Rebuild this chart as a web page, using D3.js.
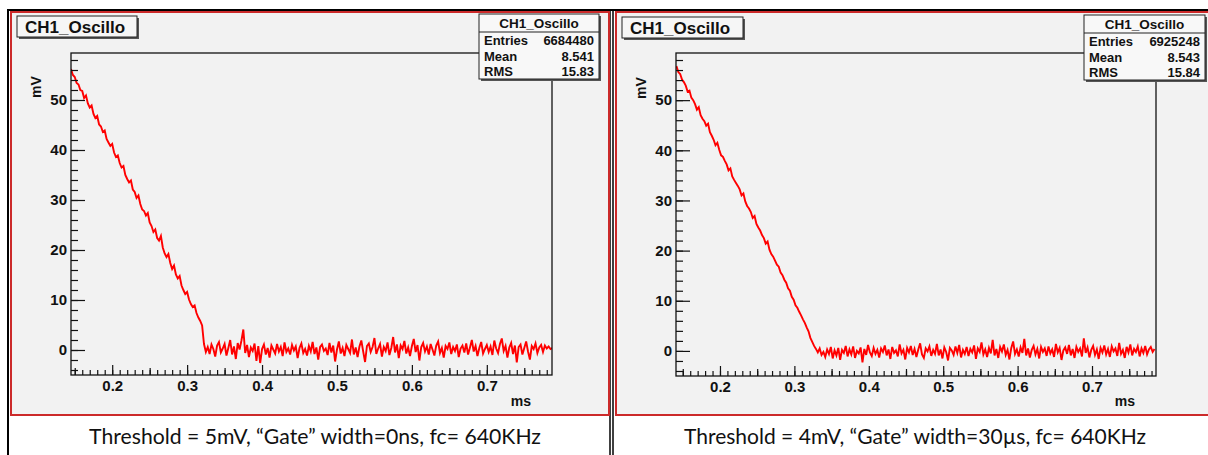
<!DOCTYPE html>
<html>
<head>
<meta charset="utf-8">
<script src="https://cdn.jsdelivr.net/npm/d3@7"></script>
<style>
  body { margin: 0; background: #fff; }
  svg text { font-family: "Liberation Sans", Arial, sans-serif; font-weight: bold; }
</style>
</head>
<body>
<div id="chart"></div>
<script>
// ---- data ----
const histName = "CH1_Oscillo";
const xLabel = "ms";
const yLabel = "mV";
const xMajorTicks = [0.2, 0.3, 0.4, 0.5, 0.6, 0.7];
const yMajorTicks = [0, 10, 20, 30, 40, 50];
const statLabels = ["Entries", "Mean", "RMS"];
const leftStats = ["6684480", "8.541", "15.83"];
const rightStats = ["6925248", "8.543", "15.84"];
const captions = [
    "Threshold = 5mV, \u201cGate\u201d width=0ns, fc= 640KHz",
    "Threshold = 4mV, \u201cGate\u201d width=30\u00b5s, fc= 640KHz"
];
const binWidth = 0.0025;   // ms
const leftStart = 0.145;
const rightStart = 0.1415;

const leftValues = [
    56.2, 55.0, 54.6, 53.4, 53.1, 52.0, 51.8, 50.4, 50.9, 49.3,
    48.5, 48.9, 47.2, 46.4, 46.8, 45.1, 44.7, 43.6, 43.9, 42.2,
    41.5, 40.8, 41.2, 39.5, 38.6, 38.9, 37.4, 36.5, 36.8, 35.0,
    34.2, 33.5, 33.9, 32.1, 31.6, 30.4, 30.9, 29.2, 28.1, 27.8,
    26.9, 27.4, 25.5, 24.8, 23.6, 24.1, 22.4, 21.9, 22.8, 20.5,
    19.3, 18.6, 19.2, 17.4, 16.2, 16.9, 15.1, 14.3, 14.8, 12.9,
    12.0, 11.2, 11.6, 10.1, 9.2, 8.6, 8.9, 7.4, 6.5, 5.8,
    4.9, 1.2,
    -0.4, 0.6, -0.8, 1.1, 0.2, -1.3, 0.9, 1.6, -0.5, 0.3,
    1.2, -1.1, 0.4, 2.0, -0.9, 0.7, -1.8, 1.4, 0.1, 1.9,
    4.1, -0.6, 1.0, -1.4, 0.5, -0.2, 1.3, -2.2, 0.8, -2.6,
    0.2, 1.1, -0.9, 0.4, -1.5, 0.9, 0.1, -0.7, 1.2, -0.3,
    0.6, -1.2, 1.5, -0.4, 0.3, -0.9, 1.0, -0.1, 0.7, -1.6,
    0.4, 1.3, -0.6, 0.2, -1.1, 0.8, -0.3, 1.6, -0.8, 0.5,
    -1.9, 0.6, 1.1, -0.2, 0.3, -1.0, 1.4, -0.5, 0.9, -2.3,
    0.1, 1.7, -0.7, 0.4, -1.2, 1.0, 0.2, -0.6, 2.1, -0.9,
    0.5, -1.4, 0.7, 1.9, -0.3, -2.4, 0.8, 1.3, -0.4, 0.6,
    2.4, -0.8, 0.3, 1.2, -1.3, 0.6, -0.2, 1.5, -1.0, 0.4,
    2.6, -0.5, 1.1, -1.6, 0.9, 0.2, 1.8, -0.7, 0.5, -1.2,
    0.8, 2.2, -0.4, 1.0, -2.1, 0.6, 1.4, -0.3, 0.7, -0.9,
    1.2, 0.1, -1.1, 0.9, 1.7, -0.6, 0.4, -1.5, 0.8, 0.2,
    1.5, -0.8, 0.6, -0.2, 1.1, -1.4, 0.3, 0.9, -0.5, 1.3,
    -0.9, 0.5, 2.0, -0.3, 0.8, -1.2, 0.4, 1.6, -0.7, 0.2,
    1.0, -0.4, 0.7, -1.0, 1.9, 0.3, -0.6, 1.2, 2.3, -0.2,
    0.8, -1.5, 0.5, 1.4, -0.8, 0.9, -2.5, 0.6, 1.1, -0.9,
    0.4, 1.7, -0.3, -1.9, 0.8, 0.2, 1.3, -0.6, 0.5, 1.0,
    -0.4, 0.9, 0.3, 0.7, 0.2, 0.4
];

const rightValues = [
    56.8, 55.6, 55.2, 54.1, 53.6, 52.9, 51.7, 51.9, 50.5, 50.0,
    49.2, 48.1, 48.6, 47.0, 46.3, 45.8, 44.9, 45.3, 43.6, 42.9,
    42.1, 41.0, 41.5, 40.1, 39.0, 38.7, 37.9, 37.2, 36.0, 36.4,
    34.8, 34.1, 33.5, 32.9, 32.2, 31.0, 31.4, 29.8, 28.9, 28.4,
    27.7, 26.5, 26.9, 25.3, 24.6, 24.0, 23.1, 22.5, 21.4, 21.8,
    20.2, 19.3, 18.8, 18.0, 17.2, 16.8, 15.6, 15.1, 14.2, 13.6,
    12.5, 12.0, 10.8, 10.2, 9.1, 8.6, 7.8, 7.1, 6.3, 5.6,
    4.7, 3.9, 2.6, 1.8, 1.0, 0.4, -0.3, 0.5, -0.8, -0.2,
    -1.2, 0.3, -0.6, 0.8, -1.5, 0.1, -0.9, 0.6, -1.8, 0.2,
    -0.4, 1.0, -1.1, 0.3, -0.7, 0.9, -1.4, 0.0, -0.5, 0.7,
    -2.3, 0.4, -0.8, 1.2, -0.3, -1.0, 0.6, -0.6, 0.2, -1.3,
    0.5, -0.2, 1.1, -0.9, 0.3, -1.6, 0.8, -0.4, 0.1, -1.1,
    1.3, -0.5, 0.2, -1.7, 0.6, -0.3, 1.0, -0.8, 0.4, -1.2,
    0.3, 1.5, -0.7, -1.4, 0.5, -0.1, 0.9, -1.0, 0.2, -0.6,
    1.4, -0.9, 0.3, -1.5, 0.7, -0.2, -1.9, 0.6, 0.1, -0.8,
    0.9, -0.4, 1.2, -1.3, 0.2, -0.6, 0.8, -1.0, 0.4, -0.3,
    1.1, -1.6, 0.5, -0.2, 1.7, -0.7, 0.3, -1.2, 0.6, -0.5,
    2.2, -0.9, 0.4, -1.4, 0.8, -0.1, 1.3, -0.8, 0.2, -1.7,
    0.6, 1.9, -0.6, 0.3, -1.1, 0.7, -0.4, 2.4, -0.9, 0.5,
    -1.3, 0.2, 1.0, -0.7, 0.4, -1.5, 0.8, -0.2, 0.5, -1.0,
    0.9, -0.5, 0.3, -1.2, 1.4, -0.3, 0.6, -1.8, 0.1, 0.7,
    -0.6, 1.2, -0.9, 0.4, -1.4, 0.8, -0.2, 0.5, -1.1, 2.5,
    -0.4, 0.7, -1.3, 0.2, 1.0, -0.8, 0.3, -1.6, 0.6, -0.3,
    1.1, -0.7, 0.4, -1.2, 0.9, -0.1, 0.5, -1.0, 1.6, -0.6,
    0.2, -1.4, 0.8, -0.3, 1.3, -0.9, 0.4, -0.2, 0.9, -1.1,
    0.5, -0.4, 1.0, -0.7, 0.3, 0.8, -0.2, 0.4
];

// ---- page layout ----
const W = 1208, H = 455;
const svg = d3.select("#chart").append("svg")
    .attr("width", W)
    .attr("height", H);

svg.append("rect").attr("width", W).attr("height", H).attr("fill", "#fff");

// panel settings (positions are layout only)
const panels = [
    {
        id: "left", start: leftStart, values: leftValues, stats: leftStats, caption: captions[0],
        canvas: { x: 11, y: 12, w: 598, h: 403 },
        frame: { x0: 71, x1: 552, y0: 53, y1: 375 },
        xDomain: [0.145, 0.787],
        title: { x: 17, y: 16, w: 120, h: 21 },
        statBox: { x: 479, y: 14, w: 120, h: 65 },
        mv: [36, 87], ms: [531, 406], capX: 315
    },
    {
        id: "right", start: rightStart, values: rightValues, stats: rightStats, caption: captions[1],
        canvas: { x: 616, y: 12, w: 600, h: 403 },
        frame: { x0: 676, x1: 1156, y0: 53, y1: 376 },
        xDomain: [0.1409, 0.786],
        title: { x: 622, y: 17, w: 121, h: 21 },
        statBox: { x: 1084, y: 15, w: 121, h: 65 },
        mv: [641, 88], ms: [1135, 406], capX: 915
    }
];

// outer black borders (screenshot frames)
svg.append("line").attr("x1", 8).attr("x2", W).attr("y1", 10).attr("y2", 10)
    .attr("stroke", "#000").attr("stroke-width", 2);
svg.append("line").attr("x1", 8).attr("x2", 8).attr("y1", 9).attr("y2", H)
    .attr("stroke", "#000").attr("stroke-width", 2);
[610, 613].forEach(x => {
    svg.append("line").attr("x1", x).attr("x2", x).attr("y1", 9).attr("y2", H)
        .attr("stroke", "#000").attr("stroke-width", 1.5);
});

panels.forEach(p => drawPanel(p));

function drawPanel(p) {
    const g = svg.append("g").attr("class", "panel-" + p.id);

    // canvas with red border
    g.append("rect")
        .attr("x", p.canvas.x).attr("y", p.canvas.y)
        .attr("width", p.canvas.w).attr("height", p.canvas.h)
        .attr("fill", "#f2f2f2")
        .attr("stroke", "#cc2a2a")
        .attr("stroke-width", 2);

    const x = d3.scaleLinear().domain(p.xDomain).range([p.frame.x0, p.frame.x1]);
    const y = d3.scaleLinear().domain([-5, 59.4]).range([p.frame.y1, p.frame.y0]);

    // clip for the trace
    g.append("clipPath").attr("id", "clip-" + p.id)
        .append("rect")
        .attr("x", p.frame.x0).attr("y", p.frame.y0)
        .attr("width", p.frame.x1 - p.frame.x0)
        .attr("height", p.frame.y1 - p.frame.y0);

    // trace
    const line = d3.line()
        .x((d, i) => x(p.start + i * binWidth))
        .y(d => y(d));

    g.append("path")
        .datum(p.values)
        .attr("clip-path", "url(#clip-" + p.id + ")")
        .attr("d", line)
        .attr("fill", "none")
        .attr("stroke", "#ff0000")
        .attr("stroke-width", 1.9)
        .attr("stroke-linejoin", "miter");

    // frame
    g.append("rect")
        .attr("x", p.frame.x0).attr("y", p.frame.y0)
        .attr("width", p.frame.x1 - p.frame.x0)
        .attr("height", p.frame.y1 - p.frame.y0)
        .attr("fill", "none")
        .attr("stroke", "#111")
        .attr("stroke-width", 1.3);

    // x axis: minor / medium / major ticks pointing inside
    const xMinor = d3.range(15, 79).map(v => v / 100);
    const xMid = xMinor.filter(v => Math.round(v * 100) % 10 === 5);

    const xAxisG = g.append("g").attr("transform", `translate(0,${p.frame.y1})`);
    xAxisG.append("g")
        .call(d3.axisBottom(x).tickValues(xMinor).tickSizeInner(-5).tickSizeOuter(0).tickFormat(""));
    xAxisG.append("g")
        .call(d3.axisBottom(x).tickValues(xMid).tickSizeInner(-7).tickSizeOuter(0).tickFormat(""));
    xAxisG.append("g")
        .call(d3.axisBottom(x).tickValues(xMajorTicks).tickSizeInner(-10).tickSizeOuter(0)
            .tickPadding(5).tickFormat(d3.format(".1f")));

    // y axis
    const yMinor = d3.range(-4, 60, 2);
    const yAxisG = g.append("g").attr("transform", `translate(${p.frame.x0},0)`);
    yAxisG.append("g")
        .call(d3.axisLeft(y).tickValues(yMinor).tickSizeInner(-7).tickSizeOuter(0).tickFormat(""));
    yAxisG.append("g")
        .call(d3.axisLeft(y).tickValues(yMajorTicks).tickSizeInner(-14).tickSizeOuter(0)
            .tickPadding(4).tickFormat(d3.format("d")));

    g.selectAll(".domain").remove();
    g.selectAll(".tick line").attr("stroke", "#111").attr("stroke-width", 1.2);
    g.selectAll(".tick text")
        .attr("fill", "#111")
        .style("font-size", "15px")
        .style("font-family", "'Liberation Sans', Arial, sans-serif")
        .style("font-weight", "bold");

    // axis titles
    g.append("text")
        .attr("transform", `translate(${p.mv[0]},${p.mv[1]}) rotate(-90)`)
        .attr("text-anchor", "middle")
        .attr("dy", "0.35em")
        .style("font-size", "14px")
        .attr("fill", "#111")
        .text(yLabel);

    g.append("text")
        .attr("x", p.ms[0]).attr("y", p.ms[1])
        .attr("text-anchor", "end")
        .style("font-size", "14px")
        .attr("fill", "#111")
        .text(xLabel);

    // title box with shadow
    const t = p.title;
    g.append("rect").attr("x", t.x + 2).attr("y", t.y + 2).attr("width", t.w).attr("height", t.h)
        .attr("fill", "#555");
    g.append("rect").attr("x", t.x).attr("y", t.y).attr("width", t.w).attr("height", t.h)
        .attr("fill", "#f6f6f6").attr("stroke", "#222").attr("stroke-width", 1);
    g.append("text")
        .attr("x", t.x + 8).attr("y", t.y + t.h / 2)
        .attr("dy", "0.36em")
        .style("font-size", "17px")
        .attr("fill", "#111")
        .text(histName);

    // stats box with shadow
    const s = p.statBox;
    g.append("rect").attr("x", s.x + 2).attr("y", s.y + 2).attr("width", s.w).attr("height", s.h)
        .attr("fill", "#555");
    g.append("rect").attr("x", s.x).attr("y", s.y).attr("width", s.w).attr("height", s.h)
        .attr("fill", "#f8f8f8").attr("stroke", "#222").attr("stroke-width", 1);
    g.append("text")
        .attr("x", s.x + s.w / 2).attr("y", s.y + 9)
        .attr("dy", "0.36em")
        .attr("text-anchor", "middle")
        .style("font-size", "13.5px")
        .attr("fill", "#111")
        .text(histName);
    g.append("line")
        .attr("x1", s.x).attr("x2", s.x + s.w)
        .attr("y1", s.y + 18).attr("y2", s.y + 18)
        .attr("stroke", "#222").attr("stroke-width", 1);

    const rowY = d3.scaleBand().domain(statLabels).range([s.y + 19, s.y + s.h]);
    statLabels.forEach((lab, i) => {
        g.append("text")
            .attr("x", s.x + 5).attr("y", rowY(lab) + rowY.bandwidth() / 2)
            .attr("dy", "0.36em")
            .style("font-size", "13px")
            .attr("fill", "#111")
            .text(lab);
        g.append("text")
            .attr("x", s.x + s.w - 5).attr("y", rowY(lab) + rowY.bandwidth() / 2)
            .attr("dy", "0.36em")
            .attr("text-anchor", "end")
            .style("font-size", "13px")
            .attr("fill", "#111")
            .text(p.stats[i]);
    });

    // caption under the screenshot
    const cap = g.append("text")
        .attr("x", p.capX).attr("y", 444)
        .attr("text-anchor", "middle")
        .style("font-family", "Lato, 'Open Sans', sans-serif")
        .style("font-weight", "normal")
        .style("font-size", "19px")
        .attr("fill", "#111")
        .text(p.caption);
    // fit the caption to the width it has in the screenshot
    const target = p.id === "left" ? 452 : 462;
    const len = cap.node().getComputedTextLength();
    if (len > 0) cap.style("font-size", (19 * target / len).toFixed(2) + "px");
}
</script>
</body>
</html>
